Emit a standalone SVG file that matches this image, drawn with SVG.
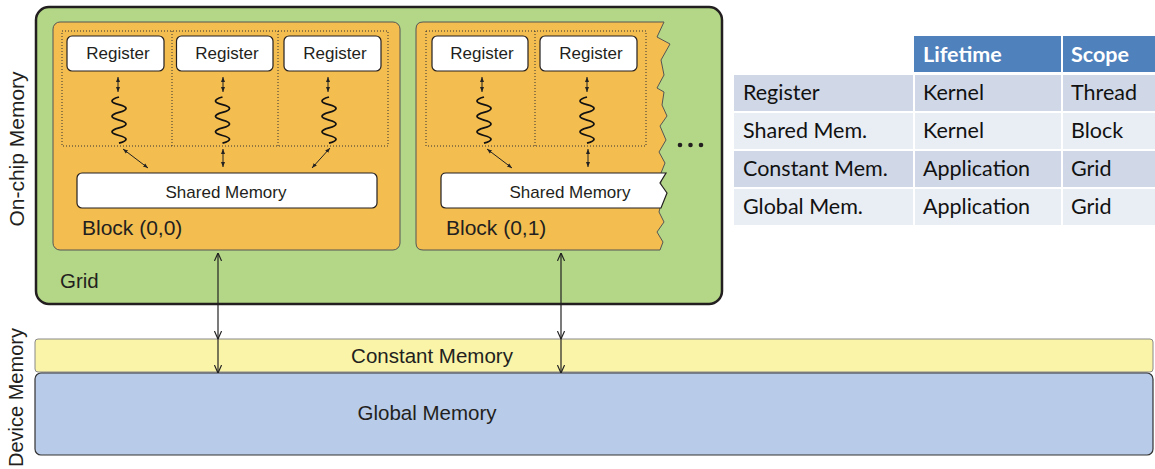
<svg xmlns="http://www.w3.org/2000/svg" width="1155" height="469" viewBox="0 0 1155 469">
<defs>
<style>
.t{font-family:"Liberation Sans",Arial,sans-serif;fill:#231f20}
.reg{fill:#fff;stroke:#231f20;stroke-width:1.2}
.blk{fill:#f4bd50;stroke:#555;stroke-width:1}
.dot{fill:none;stroke:#333;stroke-width:1;stroke-dasharray:1 2}
.sq{fill:none;stroke:#111;stroke-width:1.8}
.sa{stroke:#222;stroke-width:1;fill:none;marker-start:url(#ah);marker-end:url(#ah)}
.ba{stroke:#222;stroke-width:1.2;fill:none}
.tb{font-family:Lato,"Open Sans",sans-serif;font-size:21.5px;fill:#111}
.th{font-family:Lato,"Open Sans",sans-serif;font-size:21.5px;font-weight:bold;fill:#fff}
</style>
<marker id="ah" viewBox="0 0 10 10" refX="10" refY="5" markerWidth="5" markerHeight="5" markerUnits="userSpaceOnUse" orient="auto-start-reverse">
<path d="M0,1 L10,5 L0,9 z" fill="#222"/>
</marker>
<marker id="av" viewBox="0 0 10 10" refX="10" refY="5" markerWidth="8" markerHeight="8" markerUnits="userSpaceOnUse" orient="auto-start-reverse">
<path d="M0,0.5 L10,5 L0,9.5" fill="none" stroke="#222" stroke-width="1.5"/>
</marker>
<path id="sq" d="M0,0 q -14,4 0,7.7 t 0,7.7 t 0,7.7 t 0,7.7 t 0,7.7 t 0,7.7"/>
</defs>

<rect width="1155" height="469" fill="#fff"/>

<g id="labels">
<text class="t" font-size="21" text-anchor="middle" transform="translate(24,149) rotate(-90)">On-chip Memory</text>
<text class="t" font-size="20" text-anchor="start" transform="translate(23,467) rotate(-90)">Device Memory</text>
</g>

<g id="grid">
<rect x="36" y="7" width="686" height="297" rx="13" fill="#b3d786" stroke="#231f20" stroke-width="2.5"/>
<text class="t" x="60" y="288" font-size="20.5">Grid</text>
</g>

<g id="block00">
<rect class="blk" x="53" y="22" width="347" height="228" rx="7"/>
<rect class="dot" x="62" y="31" width="326" height="115"/>
<line class="dot" x1="172" y1="31" x2="172" y2="146"/>
<line class="dot" x1="278" y1="31" x2="278" y2="146"/>
<text class="t" x="82" y="235" font-size="21">Block (0,0)</text>
</g>
<g id="reg00a"><rect class="reg" x="67" y="36" width="97" height="35" rx="5"/><text class="t" x="118" y="59" font-size="17" text-anchor="middle">Register</text></g>
<g id="reg00b"><rect class="reg" x="176.5" y="36" width="96.5" height="35" rx="5"/><text class="t" x="227" y="59" font-size="17" text-anchor="middle">Register</text></g>
<g id="reg00c"><rect class="reg" x="284" y="36" width="97" height="35" rx="5"/><text class="t" x="335" y="59" font-size="17" text-anchor="middle">Register</text></g>
<g id="shm00"><rect class="reg" x="77" y="173" width="300" height="35" rx="5"/><text class="t" x="226" y="198" font-size="17" text-anchor="middle">Shared Memory</text></g>

<g id="block01">
<path class="blk" d="M423,22 L664,22 L657,37 L670,44 L661,60 L664,75 L657,88 L664,92 L662,105 L667,116 L660,126 L666,140 L659,152 L665,163 L661,173 L660,208 L659,212 L664,222 L657,232 L663,242 L660,250 L423,250 Q416,250 416,243 L416,29 Q416,22 423,22 Z"/>
<rect class="dot" x="426" y="31" width="220" height="115"/>
<line class="dot" x1="535" y1="31" x2="535" y2="146"/>
<text class="t" x="446" y="235" font-size="21">Block (0,1)</text>
<circle cx="680" cy="145" r="2.3" fill="#231f20"/>
<circle cx="690.5" cy="145" r="2.3" fill="#231f20"/>
<circle cx="701" cy="145" r="2.3" fill="#231f20"/>
</g>
<g id="reg01a"><rect class="reg" x="432" y="36" width="96" height="35" rx="5"/><text class="t" x="482" y="59" font-size="17" text-anchor="middle">Register</text></g>
<g id="reg01b"><rect class="reg" x="540" y="36" width="97" height="35" rx="5"/><text class="t" x="591" y="59" font-size="17" text-anchor="middle">Register</text></g>
<g id="shm01"><path class="reg" d="M446,173 L666,173 L660,183 L667,193 L661,208 L446,208 Q441,208 441,203 L441,178 Q441,173 446,173 Z"/><text class="t" x="570" y="198" font-size="17" text-anchor="middle">Shared Memory</text></g>

<g id="constant">
<rect x="35" y="339" width="1118" height="33" rx="3" fill="#f9f4a7" stroke="#888" stroke-width="1"/>
<text class="t" x="432" y="363" font-size="20.5" text-anchor="middle">Constant Memory</text>
</g>
<g id="global">
<rect x="35" y="373" width="1118" height="82" rx="6" fill="#b8cbe8" stroke="#333" stroke-width="1.2"/>
<text class="t" x="427" y="420" font-size="20.5" text-anchor="middle">Global Memory</text>
</g>

<g id="connectors">
<line class="sa" x1="118" y1="77" x2="118" y2="92"/>
<line class="sa" x1="223" y1="77" x2="223" y2="92"/>
<line class="sa" x1="328" y1="77" x2="328" y2="92"/>
<line class="sa" x1="482" y1="77" x2="482" y2="92"/>
<line class="sa" x1="587" y1="77" x2="587" y2="92"/>
<use href="#sq" class="sq" x="119" y="97"/>
<use href="#sq" class="sq" x="222.5" y="97"/>
<use href="#sq" class="sq" x="329" y="97"/>
<use href="#sq" class="sq" x="484" y="97"/>
<use href="#sq" class="sq" x="587" y="97"/>
<line class="sa" x1="123" y1="149" x2="148" y2="168"/>
<line class="sa" x1="223" y1="149" x2="223" y2="167"/>
<line class="sa" x1="330" y1="148" x2="312" y2="168"/>
<line class="sa" x1="487" y1="149" x2="512" y2="168"/>
<line class="sa" x1="588" y1="149" x2="588" y2="167"/>
<line class="ba" x1="218" y1="253" x2="218" y2="339" marker-start="url(#av)" marker-end="url(#av)"/>
<line class="ba" x1="218" y1="339" x2="218" y2="373" marker-end="url(#av)"/>
<line class="ba" x1="561" y1="253" x2="561" y2="339" marker-start="url(#av)" marker-end="url(#av)"/>
<line class="ba" x1="561" y1="339" x2="561" y2="373" marker-end="url(#av)"/>
</g>

<g id="table">
<rect x="914" y="36" width="147" height="36" fill="#4f81bd"/>
<rect x="1063" y="36" width="92" height="36" fill="#4f81bd"/>
<rect x="734" y="75" width="179" height="36" fill="#d0d8e8"/>
<rect x="915" y="75" width="146" height="36" fill="#d0d8e8"/>
<rect x="1063" y="75" width="92" height="36" fill="#d0d8e8"/>
<rect x="734" y="113" width="179" height="36" fill="#e9edf4"/>
<rect x="915" y="113" width="146" height="36" fill="#e9edf4"/>
<rect x="1063" y="113" width="92" height="36" fill="#e9edf4"/>
<rect x="734" y="151" width="179" height="36" fill="#d0d8e8"/>
<rect x="915" y="151" width="146" height="36" fill="#d0d8e8"/>
<rect x="1063" y="151" width="92" height="36" fill="#d0d8e8"/>
<rect x="734" y="189" width="179" height="36" fill="#e9edf4"/>
<rect x="915" y="189" width="146" height="36" fill="#e9edf4"/>
<rect x="1063" y="189" width="92" height="36" fill="#e9edf4"/>
<text class="th" x="923" y="62">Lifetime</text>
<text class="th" x="1071" y="62">Scope</text>
<text class="tb" x="743" y="100">Register</text>
<text class="tb" x="923" y="100">Kernel</text>
<text class="tb" x="1071" y="100">Thread</text>
<text class="tb" x="743" y="138">Shared Mem.</text>
<text class="tb" x="923" y="138">Kernel</text>
<text class="tb" x="1071" y="138">Block</text>
<text class="tb" x="743" y="176">Constant Mem.</text>
<text class="tb" x="923" y="176">Application</text>
<text class="tb" x="1071" y="176">Grid</text>
<text class="tb" x="743" y="214">Global Mem.</text>
<text class="tb" x="923" y="214">Application</text>
<text class="tb" x="1071" y="214">Grid</text>
</g>
</svg>
